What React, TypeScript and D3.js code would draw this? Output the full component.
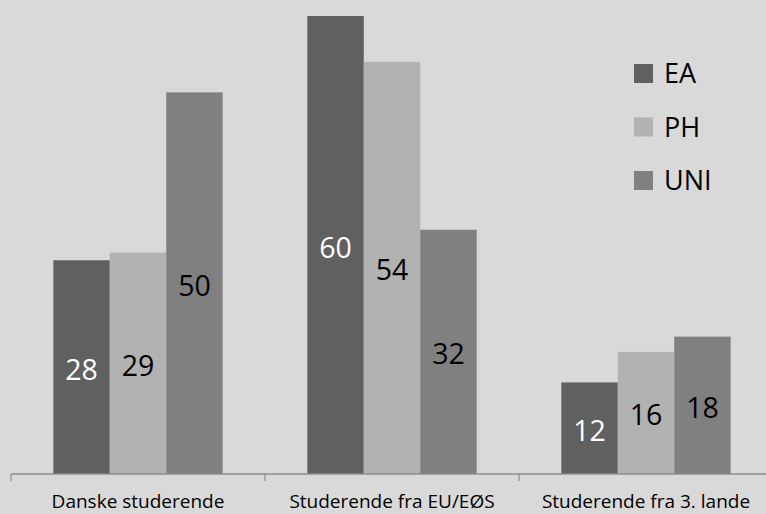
import React from "react";
import * as d3 from "d3";

const categories = ["Danske studerende", "Studerende fra EU/EØS", "Studerende fra 3. lande"];
const seriesNames = ["EA", "PH", "UNI"];
const eaValues = [28, 60, 12];
const phValues = [29, 54, 16];
const uniValues = [50, 32, 18];

const seriesValues = [eaValues, phValues, uniValues];
const seriesColors = ["#606060", "#b2b2b2", "#808080"];
const labelColors = ["#ffffff", "#000000", "#000000"];

const W = 766;
const H = 514;
const FONT = "'Open Sans', 'DejaVu Sans', sans-serif";

export default function App() {
  const x0 = d3.scaleBand<string>().domain(categories).range([11, 11 + 254 * 3]).paddingInner(0).paddingOuter(0);
  const x1 = d3.scaleBand<string>().domain(seriesNames).range([0, x0.bandwidth()]).paddingInner(0).paddingOuter(0.75);
  const y = d3.scaleLinear().domain([0, 60]).range([474, 16]);
  const baseY = y(0);

  const tickXs = categories.map((c) => x0(c)!);

  return (
    <svg width={W} height={H} style={{ position: "absolute", left: 0, top: 0, display: "block" }}>
      <rect x={0} y={0} width={W} height={H} fill="#d9d9d9" />

      {categories.map((cat, ci) => (
        <g key={cat} transform={`translate(${x0(cat)},0)`}>
          {seriesNames.map((s, si) => {
            const v = seriesValues[si][ci];
            const bx = x1(s)!;
            const top = y(v);
            return (
              <g key={s}>
                <rect x={bx} y={top} width={x1.bandwidth()} height={baseY - top} fill={seriesColors[si]} />
                <text
                  x={bx + x1.bandwidth() / 2}
                  y={(top + baseY) / 2 + 12.5}
                  textAnchor="middle"
                  fontFamily={FONT}
                  fontSize={28.5}
                  fill={labelColors[si]}
                >
                  {v}
                </text>
              </g>
            );
          })}
        </g>
      ))}

      {/* category axis */}
      <line x1={11} x2={W} y1={baseY} y2={baseY} stroke="#8c8c8c" strokeWidth={1.5} />
      {tickXs.map((tx, i) => (
        <line key={i} x1={tx} x2={tx} y1={baseY} y2={baseY + 7} stroke="#8c8c8c" strokeWidth={1.2} />
      ))}
      {categories.map((cat) => (
        <text
          key={cat}
          x={x0(cat)! + x0.bandwidth() / 2}
          y={508}
          textAnchor="middle"
          fontFamily={FONT}
          fontSize={19}
          fill="#000000"
        >
          {cat}
        </text>
      ))}

      {/* legend */}
      {seriesNames.map((s, i) => {
        const cy = 73.5 + i * 53.5;
        return (
          <g key={s}>
            <rect x={634} y={cy - 9.5} width={19} height={19} fill={seriesColors[i]} />
            <text x={664} y={cy + 9.5} fontFamily={FONT} fontSize={27} fill="#000000">
              {s}
            </text>
          </g>
        );
      })}
    </svg>
  );
}
